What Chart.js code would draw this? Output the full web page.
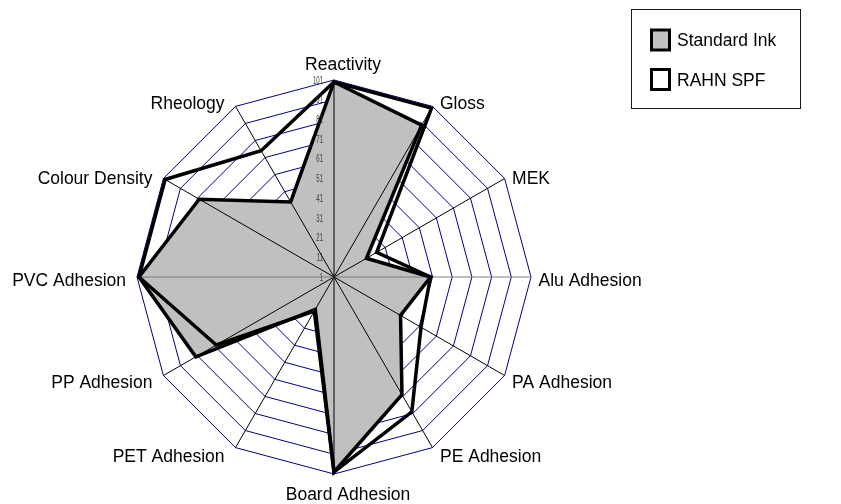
<!DOCTYPE html>
<html>
<head>
<meta charset="utf-8">
<script src="https://cdn.jsdelivr.net/npm/chart.js@4/dist/chart.umd.min.js"></script>
<style>
  html, body { margin: 0; padding: 0; background: #ffffff; }
  canvas { display: block; }
</style>
</head>
<body>
<canvas id="radar" width="841" height="504"></canvas>
<script>
// Property categories, clockwise from the top
const categories = [
  'Reactivity', 'Gloss', 'MEK', 'Alu Adhesion', 'PA Adhesion', 'PE Adhesion',
  'Board Adhesion', 'PET Adhesion', 'PP Adhesion', 'PVC Adhesion', 'Colour Density', 'Rheology'
];

// Series values
const standardInk = [100, 90, 20, 50, 40, 70, 100, 20, 82, 100, 80, 45];
const rahnSpf     = [100, 100, 26, 50, 52, 80, 100, 21, 70, 100, 100, 75];

const seriesNames = ['Standard Ink', 'RAHN SPF'];

// Value axis: 1, 11, 21 ... 101
const scaleMin = 1;
const scaleMax = 101;
const scaleStep = 10;

const FONT = '"Liberation Sans", Arial, Helvetica, sans-serif';
const LABEL_SIZE = 17.5;

// Spokes are drawn over the grey fill but under the series outlines
const spokesPlugin = {
  id: 'spokes',
  beforeDatasetsDraw(chart) {
    const s = chart.scales.r;
    const ctx = chart.ctx;
    ctx.save();
    ctx.lineWidth = 1;
    for (let i = 0; i < chart.data.labels.length; i++) {
      const a = s.getIndexAngle(i);
      const p = s.getPointPosition(i, s.drawingArea);
      const horizontal = Math.abs(Math.cos(a)) < 0.01;
      ctx.strokeStyle = horizontal ? '#7a7a7a' : '#000000';
      ctx.beginPath();
      ctx.moveTo(s.xCenter, s.yCenter);
      ctx.lineTo(p.x, p.y);
      ctx.stroke();
    }
    ctx.restore();
  }
};

// Narrow value labels beside the vertical axis
const valueLabelsPlugin = {
  id: 'valueLabels',
  afterDatasetsDraw(chart) {
    const s = chart.scales.r;
    const ctx = chart.ctx;
    ctx.save();
    ctx.fillStyle = '#3a3a3a';
    ctx.font = '10px ' + FONT;
    ctx.textAlign = 'right';
    ctx.textBaseline = 'alphabetic';
    s.ticks.forEach(t => {
      const y = s.yCenter - s.getDistanceFromCenterForValue(t.value);
      ctx.save();
      ctx.translate(s.xCenter - 11, y + 3.6);
      ctx.scale(0.6, 1);
      ctx.fillText(String(t.value), 0, 0);
      ctx.restore();
    });
    ctx.restore();
  }
};

// Category names placed around the outer ring
const categoryLabelsPlugin = {
  id: 'categoryLabels',
  afterDraw(chart) {
    const s = chart.scales.r;
    const ctx = chart.ctx;
    ctx.save();
    ctx.fillStyle = '#000000';
    ctx.font = LABEL_SIZE + 'px ' + FONT;
    ctx.textBaseline = 'alphabetic';
    const capHalf = LABEL_SIZE * 0.716 / 2;
    chart.data.labels.forEach((label, i) => {
      const a = s.getIndexAngle(i);
      const p = s.getPointPosition(i, s.drawingArea);
      const sin = Math.sin(a), cos = Math.cos(a);
      let x, cy, align;
      if (Math.abs(sin) < 0.01) {
        align = 'center';
        if (cos > 0) { x = p.x + 9; cy = p.y - 16; }
        else { x = p.x + 14; cy = p.y + 20; }
      } else if (sin > 0) {
        align = 'left';
        x = p.x + 7.5;
        cy = p.y + 2.5 - 7 * cos;
      } else {
        align = 'right';
        x = p.x - 11;
        cy = p.y + 2.5 - 7 * cos;
      }
      ctx.textAlign = align;
      ctx.fillText(label, x, cy + capHalf);
    });
    ctx.restore();
  }
};

// Framed legend in the top right corner
const boxLegendPlugin = {
  id: 'boxLegend',
  afterDraw(chart) {
    const ctx = chart.ctx;
    ctx.save();
    ctx.strokeStyle = '#1a1a1a';
    ctx.lineWidth = 1;
    ctx.strokeRect(631.5, 9.5, 169, 99);
    ctx.font = LABEL_SIZE + 'px ' + FONT;
    ctx.textAlign = 'left';
    ctx.textBaseline = 'alphabetic';
    const rows = [40, 79.5];
    chart.data.datasets.forEach((ds, i) => {
      const cy = rows[i];
      ctx.fillStyle = ds.legendFill;
      ctx.fillRect(651.5, cy - 10, 18, 20);
      ctx.strokeStyle = ds.borderColor;
      ctx.lineWidth = 3;
      ctx.strokeRect(651.5, cy - 10, 18, 20);
      ctx.fillStyle = '#000000';
      ctx.fillText(ds.label, 677, cy + LABEL_SIZE * 0.716 / 2);
    });
    ctx.restore();
  }
};

new Chart(document.getElementById('radar'), {
  type: 'radar',
  data: {
    labels: categories,
    datasets: [
      {
        label: seriesNames[0],
        data: standardInk,
        backgroundColor: '#c0c0c0',
        legendFill: '#c0c0c0',
        borderColor: '#000000',
        borderWidth: 3.5,
        fill: 'origin',
        pointRadius: 0,
        pointHoverRadius: 0,
        tension: 0
      },
      {
        label: seriesNames[1],
        data: rahnSpf,
        backgroundColor: 'rgba(0,0,0,0)',
        legendFill: '#ffffff',
        borderColor: '#000000',
        borderWidth: 3.5,
        fill: false,
        pointRadius: 0,
        pointHoverRadius: 0,
        tension: 0
      }
    ]
  },
  options: {
    responsive: false,
    animation: false,
    devicePixelRatio: 1,
    layout: { padding: { left: 137, right: 310, top: 80, bottom: 30 } },
    elements: { line: { borderJoinStyle: 'miter' } },
    plugins: {
      legend: { display: false },
      tooltip: { enabled: false },
      filler: { drawTime: 'beforeDatasetsDraw' }
    },
    scales: {
      r: {
        min: scaleMin,
        max: scaleMax,
        startAngle: 0,
        ticks: { stepSize: scaleStep, display: false },
        grid: { color: '#000080', lineWidth: 1 },
        angleLines: { display: false },
        pointLabels: { display: false }
      }
    }
  },
  plugins: [spokesPlugin, valueLabelsPlugin, categoryLabelsPlugin, boxLegendPlugin]
});
</script>
</body>
</html>
